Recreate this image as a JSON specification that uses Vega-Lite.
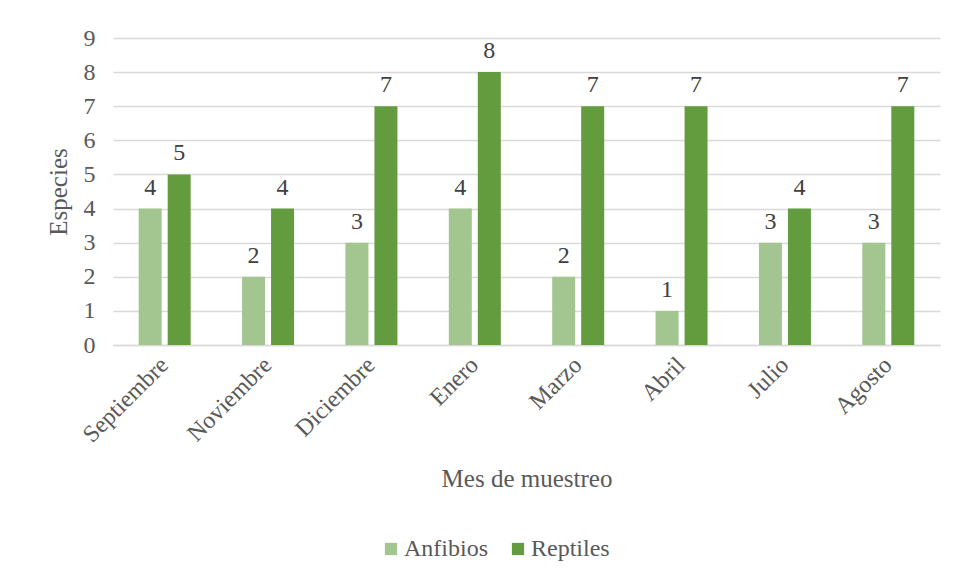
{
  "$schema": "https://vega.github.io/schema/vega-lite/v6.json",
  "width": 827,
  "height": 307,
  "autosize": {"type": "none"},
  "padding": {"left": 113, "top": 38, "right": 16, "bottom": 234},
  "background": "white",
  "config": {
    "font": "Liberation Serif",
    "view": {"stroke": null},
    "axis": {"labelFont": "Liberation Serif", "titleFont": "Liberation Serif", "labelColor": "#595959", "titleColor": "#595959", "titleFontWeight": "normal", "labelFontSize": 24, "titleFontSize": 25},
    "legend": {"labelFont": "Liberation Serif", "titleFont": "Liberation Serif", "labelFontSize": 24, "labelColor": "#595959"}
  },
  "data": {
    "values": [
      {"mes": "Septiembre", "grupo": "Anfibios", "especies": 4},
      {"mes": "Septiembre", "grupo": "Reptiles", "especies": 5},
      {"mes": "Noviembre", "grupo": "Anfibios", "especies": 2},
      {"mes": "Noviembre", "grupo": "Reptiles", "especies": 4},
      {"mes": "Diciembre", "grupo": "Anfibios", "especies": 3},
      {"mes": "Diciembre", "grupo": "Reptiles", "especies": 7},
      {"mes": "Enero", "grupo": "Anfibios", "especies": 4},
      {"mes": "Enero", "grupo": "Reptiles", "especies": 8},
      {"mes": "Marzo", "grupo": "Anfibios", "especies": 2},
      {"mes": "Marzo", "grupo": "Reptiles", "especies": 7},
      {"mes": "Abril", "grupo": "Anfibios", "especies": 1},
      {"mes": "Abril", "grupo": "Reptiles", "especies": 7},
      {"mes": "Julio", "grupo": "Anfibios", "especies": 3},
      {"mes": "Julio", "grupo": "Reptiles", "especies": 4},
      {"mes": "Agosto", "grupo": "Anfibios", "especies": 3},
      {"mes": "Agosto", "grupo": "Reptiles", "especies": 7}
    ]
  },
  "encoding": {
    "x": {
      "field": "mes", "type": "nominal", "sort": null,
      "scale": {"paddingInner": 0.497, "paddingOuter": 0.2485},
      "axis": {"title": "Mes de muestreo", "labelAngle": -45, "labelAlign": "right", "labelBaseline": "middle", "labelPadding": 16, "ticks": false, "domainColor": "#d9d9d9", "domainWidth": 1.5, "titlePadding": 20}
    },
    "xOffset": {"field": "grupo", "type": "nominal", "scale": {"paddingInner": 0.207, "paddingOuter": 0}},
    "y": {
      "field": "especies", "type": "quantitative",
      "scale": {"domain": [0, 9], "nice": false},
      "axis": {"title": "Especies", "values": [0, 1, 2, 3, 4, 5, 6, 7, 8, 9], "labelOverlap": false, "domain": false, "ticks": false, "gridColor": "#d9d9d9", "gridWidth": 1.5, "labelPadding": 18, "titlePadding": 12}
    }
  },
  "layer": [
    {
      "mark": {"type": "bar"},
      "encoding": {
        "color": {
          "field": "grupo", "type": "nominal",
          "scale": {"domain": ["Anfibios", "Reptiles"], "range": ["#a3c590", "#639b3f"]},
          "legend": {"title": null, "orient": "none", "direction": "horizontal", "legendX": 266, "legendY": 499, "symbolType": "square", "symbolSize": 150, "symbolStrokeWidth": 0, "labelFont": "Liberation Serif", "labelFontSize": 24, "labelColor": "#595959", "labelOffset": 1, "columnPadding": 18, "padding": 0}
        }
      }
    },
    {
      "mark": {"type": "text", "baseline": "alphabetic", "dy": -14, "fontSize": 24, "font": "Liberation Serif", "color": "#404040"},
      "encoding": {"text": {"field": "especies", "type": "quantitative"}}
    }
  ]
}
